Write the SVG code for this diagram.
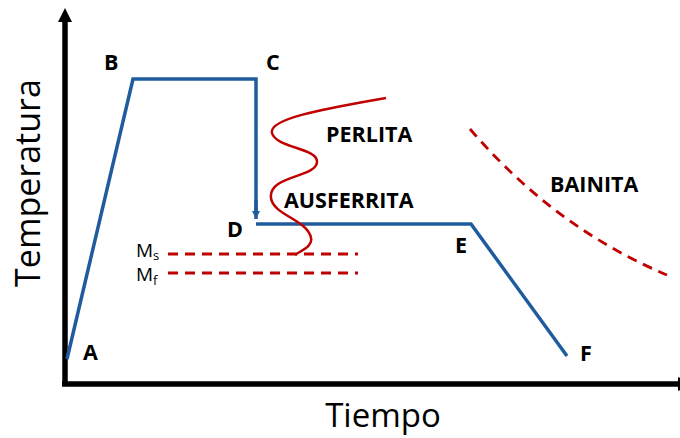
<svg xmlns="http://www.w3.org/2000/svg" width="680" height="438" viewBox="0 0 680 438">
<defs>
<style>
.axis{stroke:#000;stroke-width:5.5;fill:none}
.blue{stroke:#1f5c9e;stroke-width:3.5;fill:none;stroke-linejoin:miter}
.red{stroke:#c00000;stroke-width:2.5;fill:none}
.dash{stroke:#c00000;stroke-width:2.8;fill:none;stroke-dasharray:10 7}
.lbl{font-family:"Open Sans","Liberation Sans",sans-serif;font-weight:bold;font-size:21.5px;fill:#000}
.ax{font-family:"Open Sans","Liberation Sans",sans-serif;font-size:34px;fill:#000}
.m{font-family:"Open Sans","Liberation Sans",sans-serif;font-size:19px;fill:#000}
</style>
<marker id="ah" viewBox="0 0 10 10" refX="10" refY="5" markerWidth="10" markerHeight="8" markerUnits="userSpaceOnUse" orient="auto">
<path d="M0,0 L10,5 L0,10 Z" fill="#1f5c9e"/>
</marker>
</defs>
<g id="axes">
<line class="axis" x1="65" y1="20" x2="65" y2="386"/>
<polygon points="65,8 58,22 72,22" fill="#000"/>
<line class="axis" x1="62" y1="384" x2="680" y2="384"/>
<polygon points="692,384 678,377 678,391" fill="#000"/>
<text class="ax" x="383" y="427" font-size="33" text-anchor="middle" style="font-size:33px">Tiempo</text>
<text class="ax" transform="translate(40,183) rotate(-90)" text-anchor="middle">Temperatura</text>
</g>
<g id="connectors">
<polyline class="blue" points="67,359 133,79 256,79 256,212"/>
<line class="blue" x1="256" y1="200" x2="256" y2="219" marker-end="url(#ah)"/>
<polyline class="blue" points="256,224 471,224 567,356"/>
<path class="red" d="M386,98 C330,108 268,118 272,133 C276,148 318,148 317,162 C316,178 268,175 271,198 C273,215 308,220 311,238 C313,246 302,250 295,255"/>
<line class="dash" x1="168" y1="254" x2="358" y2="254"/>
<line class="dash" x1="168" y1="273" x2="358" y2="273"/>
<path class="dash" d="M470,129 Q555,228 667,275"/>
</g>
<g id="A"><text class="lbl" x="83" y="360">A</text></g>
<g id="B"><text class="lbl" x="104" y="70">B</text></g>
<g id="C"><text class="lbl" x="266" y="70">C</text></g>
<g id="D"><text class="lbl" x="227" y="237">D</text></g>
<g id="E"><text class="lbl" x="455" y="253">E</text></g>
<g id="F"><text class="lbl" x="580" y="361">F</text></g>
<g id="perlita"><text class="lbl" x="326" y="142">PERLITA</text></g>
<g id="ausferrita"><text class="lbl" x="284" y="208">AUSFERRITA</text></g>
<g id="bainita"><text class="lbl" x="550" y="192">BAINITA</text></g>
<g id="Ms"><text class="m" x="136" y="257">M<tspan font-size="13" dy="3">s</tspan></text></g>
<g id="Mf"><text class="m" x="136" y="281">M<tspan font-size="13" dy="4">f</tspan></text></g>
</svg>
